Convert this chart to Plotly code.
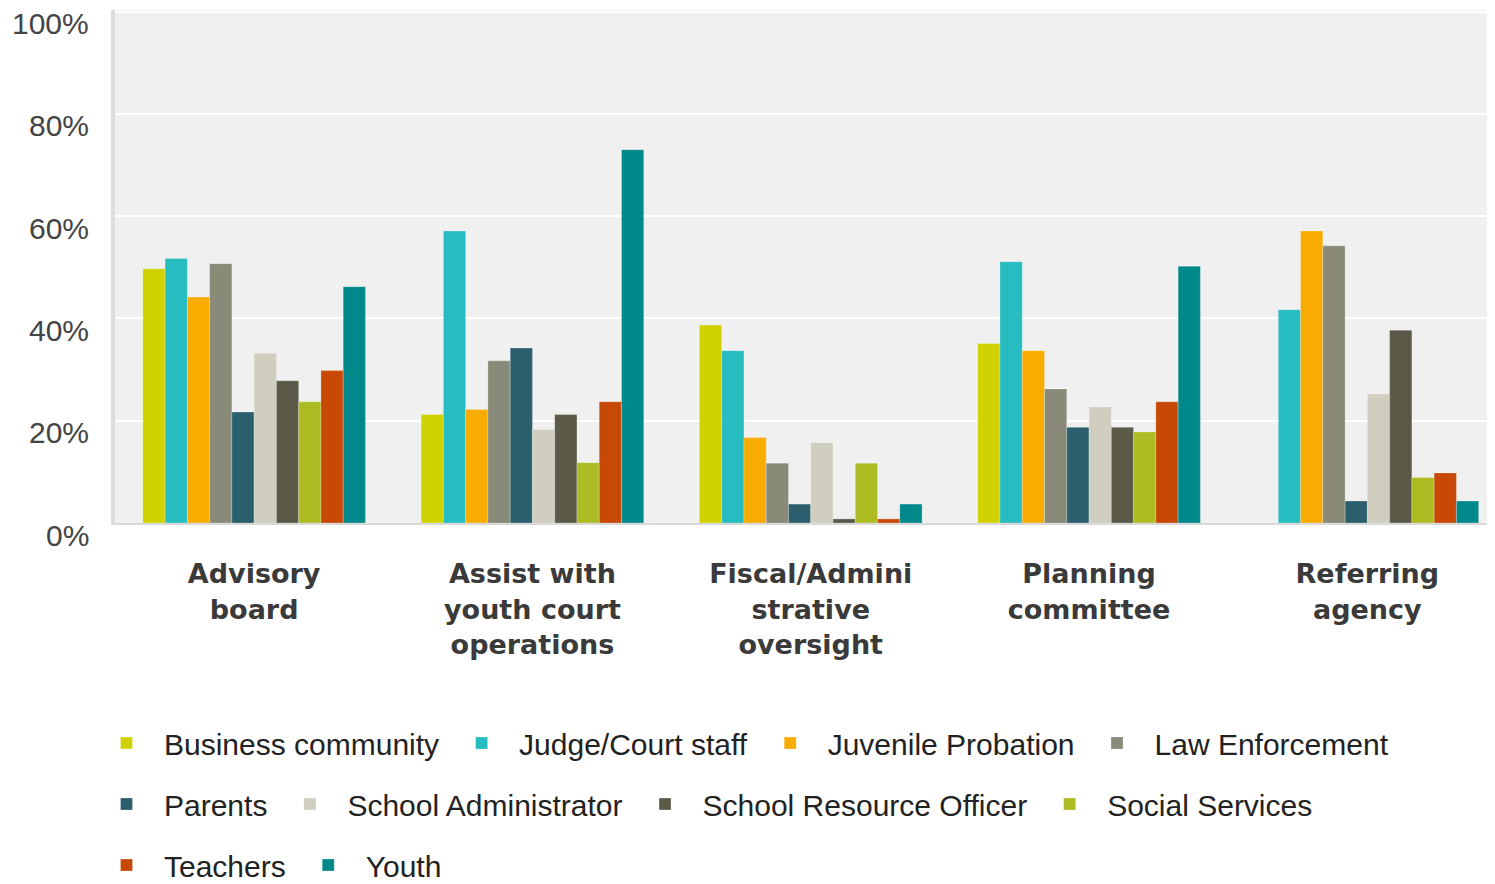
import plotly.graph_objects as go

categories = [
    "Advisory<br>board",
    "Assist with<br>youth court<br>operations",
    "Fiscal/Admini<br>strative<br>oversight",
    "Planning<br>committee",
    "Referring<br>agency",
]

series_names = [
    "Business community", "Judge/Court staff", "Juvenile Probation", "Law Enforcement",
    "Parents", "School Administrator", "School Resource Officer", "Social Services",
    "Teachers", "Youth",
]

business_community = [49.7, 21.2, 38.7, 35.1, None]
judge_court_staff = [51.7, 57.1, 33.7, 51.1, 41.7]
juvenile_probation = [44.2, 22.2, 16.7, 33.7, 57.1]
law_enforcement = [50.7, 31.7, 11.7, 26.2, 54.2]
parents = [21.7, 34.2, 3.7, 18.7, 4.3]
school_administrator = [33.2, 18.3, 15.7, 22.7, 25.2]
school_resource_officer = [27.8, 21.2, 0.8, 18.7, 37.7]
social_services = [23.7, 11.8, 11.7, 17.8, 8.9]
teachers = [29.8, 23.7, 0.8, 23.7, 9.8]
youth = [46.2, 73.0, 3.7, 50.2, 4.3]

series_values = [
    business_community, judge_court_staff, juvenile_probation, law_enforcement,
    parents, school_administrator, school_resource_officer, social_services,
    teachers, youth,
]

colors = [
    "#D0D200", "#26BCC0", "#F9AC00", "#898A78", "#2C5F6E",
    "#D0CEBE", "#5B5A48", "#ACBC22", "#C84805", "#00898A",
]

y_tick_vals = [0, 20, 40, 60, 80, 100]
y_tick_text = ["0%", "20%", "40%", "60%", "80%", "100%"]

legend_rows = ["legend"] * 4 + ["legend2"] * 4 + ["legend3"] * 2

fig = go.Figure()
for name, vals, col, lg in zip(series_names, series_values, colors, legend_rows):
    fig.add_trace(go.Bar(
        x=categories, y=vals, name=name, legend=lg,
        marker=dict(color=col, line=dict(width=1, color="rgba(255,255,255,0.25)")),
    ))

# the page body has an 8px margin, so the figure is sized to fill the rest of the window
W, H = 1487, 876
ml, mr, mt, mb = 107, 0, 2, 361
plot_w = W - ml - mr
plot_h = H - mt - mb
cat_px = 278.3
x_span = plot_w / cat_px

def row_y(py):
    return (H - mb - py) / plot_h

legend_common = dict(
    orientation="h", xanchor="left", yanchor="middle",
    x=(81 - ml) / plot_w, itemwidth=65,
    font=dict(family="Liberation Sans, Arial, sans-serif", size=30, color="#222222"),
    bgcolor="rgba(0,0,0,0)", traceorder="normal",
    itemclick=False, itemdoubleclick=False,
)

tick_font = dict(family="Liberation Sans, Arial, sans-serif", size=30, color="#444444")

# y tick labels sit just below their gridlines, as in the original chart
y_labels = [
    dict(x=0, xref="paper", y=v, yref="y", text=t, showarrow=False,
         xanchor="right", yanchor="middle", xshift=-24, yshift=-12, font=tick_font)
    for v, t in zip(y_tick_vals, y_tick_text)
]

fig.update_layout(
    width=W, height=H,
    margin=dict(l=ml, r=mr, t=mt, b=mb, pad=0, autoexpand=False),
    paper_bgcolor="white", plot_bgcolor="#F0F0F0",
    barmode="group", bargap=0.2, bargroupgap=0,
    font=dict(family="Liberation Sans, Arial, sans-serif", size=30, color="#444444"),
    legend=dict(legend_common, y=row_y(735)),
    legend2=dict(legend_common, y=row_y(796)),
    legend3=dict(legend_common, y=row_y(857)),
    annotations=y_labels,
    xaxis=dict(
        type="category", range=[-0.5, -0.5 + x_span], automargin=False,
        showgrid=False, showline=True, linecolor="#D9D9D9", linewidth=2,
        ticks="outside", ticklen=0, tickcolor="rgba(0,0,0,0)",
        ticklabelstandoff=26,
        tickfont=dict(family="DejaVu Sans, Verdana, sans-serif", size=27, color="#3A3A3A",
                      weight="bold"),
        fixedrange=True,
    ),
    yaxis=dict(
        range=[0, 100.3], tickvals=y_tick_vals, automargin=False,
        showgrid=True, gridcolor="white", gridwidth=2,
        showline=True, linecolor="#DEDEDE", linewidth=4,
        zeroline=False, ticks="", showticklabels=False,
        fixedrange=True,
    ),
)

fig.write_html("out.html", config={"displayModeBar": False})
